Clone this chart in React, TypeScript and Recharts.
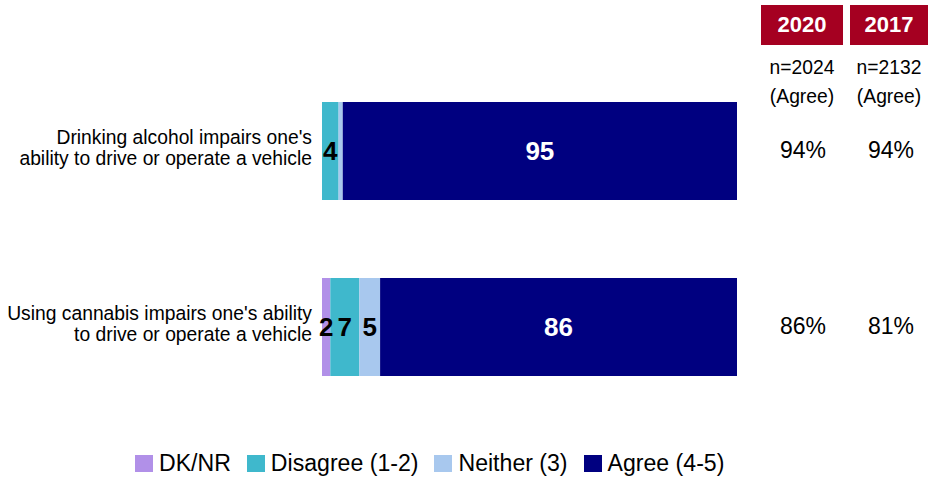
import React from "react";
import { BarChart, Bar, XAxis, YAxis, LabelList } from "recharts";

const categories = [
  "Drinking alcohol impairs one's ability to drive or operate a vehicle",
  "Using cannabis impairs one's ability to drive or operate a vehicle",
];
const categoryLines = [
  ["Drinking alcohol impairs one's", "ability to drive or operate a vehicle"],
  ["Using cannabis impairs one's ability", "to drive or operate a vehicle"],
];
const dknr = [0, 2];
const disagree = [4, 7];
const neither = [1, 5];
const agree = [95, 86];
const years = ["2020", "2017"];
const sampleSizes = ["n=2024", "n=2132"];
const agree2020 = [94, 86];
const agree2017 = [94, 81];

const seriesNames = ["DK/NR", "Disagree (1-2)", "Neither (3)", "Agree (4-5)"];
const colors = ["#B190E8", "#3FB8CC", "#A8C8EE", "#000080"];

const data = categories.map((c, i) => ({
  name: c,
  dknr: dknr[i],
  disagree: disagree[i],
  neither: neither[i],
  agree: agree[i],
  p2020: agree2020[i],
  p2017: agree2017[i],
}));

const FONT = "'Liberation Sans', Arial, sans-serif";

const CategoryTick = (props: any) => {
  const { x, y, payload } = props;
  const idx = categories.indexOf(payload.value);
  const lines = categoryLines[idx] || [payload.value];
  return (
    <g>
      {lines.map((l: string, i: number) => (
        <text
          key={i}
          x={x}
          y={y - 7 + i * 21}
          textAnchor="end"
          fontSize={19.3}
          fontFamily={FONT}
          fill="#000"
        >
          {l}
        </text>
      ))}
    </g>
  );
};

const segLabel = (fill: string) => (props: any) => {
  const { x, y, width, height, value } = props;
  if (value == null || value < 2) return null;
  return (
    <text
      x={x + width / 2}
      y={y + height / 2 + 9}
      textAnchor="middle"
      fontSize={26}
      fontWeight="bold"
      fontFamily={FONT}
      fill={fill}
    >
      {value}
    </text>
  );
};

const columnLabel = (props: any) => {
  const { y, height, index } = props;
  const cy = y + height / 2 + 7;
  return (
    <g>
      <text x={803} y={cy} textAnchor="middle" fontSize={23} fontFamily={FONT} fill="#000">
        {agree2020[index]}%
      </text>
      <text x={891} y={cy} textAnchor="middle" fontSize={23} fontFamily={FONT} fill="#000">
        {agree2017[index]}%
      </text>
    </g>
  );
};

const headerBoxes = [
  { left: 761, width: 82, center: 802 },
  { left: 850, width: 78, center: 889 },
];

export default function App() {
  return (
    <div style={{ position: "absolute", left: 0, top: 0, width: 931, height: 479, fontFamily: FONT }}>
      <BarChart
        width={931}
        height={479}
        data={data}
        layout="vertical"
        margin={{ top: 63, right: 194, bottom: 64, left: 0 }}
        barSize={98}
      >
        <XAxis type="number" domain={[0, 100]} hide />
        <YAxis
          type="category"
          dataKey="name"
          width={322}
          axisLine={false}
          tickLine={false}
          tickSize={0}
          tickMargin={10}
          tick={<CategoryTick />}
          interval={0}
        />
        <Bar dataKey="dknr" stackId="a" fill={colors[0]} isAnimationActive={false}>
          <LabelList dataKey="dknr" content={segLabel("#000")} />
        </Bar>
        <Bar dataKey="disagree" stackId="a" fill={colors[1]} isAnimationActive={false}>
          <LabelList dataKey="disagree" content={segLabel("#000")} />
        </Bar>
        <Bar dataKey="neither" stackId="a" fill={colors[2]} isAnimationActive={false}>
          <LabelList dataKey="neither" content={segLabel("#000")} />
        </Bar>
        <Bar dataKey="agree" stackId="a" fill={colors[3]} isAnimationActive={false}>
          <LabelList dataKey="agree" content={segLabel("#fff")} />
          <LabelList dataKey="p2020" content={columnLabel} />
        </Bar>
      </BarChart>

      {headerBoxes.map((b, i) => (
        <div key={i}>
          <div
            style={{
              position: "absolute",
              left: b.left,
              top: 5,
              width: b.width,
              height: 40,
              background: "#A50021",
              color: "#fff",
              fontWeight: "bold",
              fontSize: 22,
              lineHeight: "40px",
              textAlign: "center",
            }}
          >
            {years[i]}
          </div>
          <div
            style={{
              position: "absolute",
              left: b.center - 45,
              width: 90,
              top: 53,
              fontSize: 19.3,
              lineHeight: "29px",
              textAlign: "center",
              color: "#000",
            }}
          >
            {sampleSizes[i]}
            <br />
            (Agree)
          </div>
        </div>
      ))}

      <div
        style={{
          position: "absolute",
          left: 135,
          top: 449,
          display: "flex",
          alignItems: "center",
          fontSize: 23.1,
          lineHeight: "28px",
          color: "#000",
          whiteSpace: "nowrap",
        }}
      >
        {seriesNames.map((n, i) => (
          <div key={n} style={{ display: "flex", alignItems: "center", marginRight: 16 }}>
            <span
              style={{ display: "inline-block", width: 18, height: 17, background: colors[i], marginRight: 6 }}
            />
            <span>{n}</span>
          </div>
        ))}
      </div>
    </div>
  );
}
